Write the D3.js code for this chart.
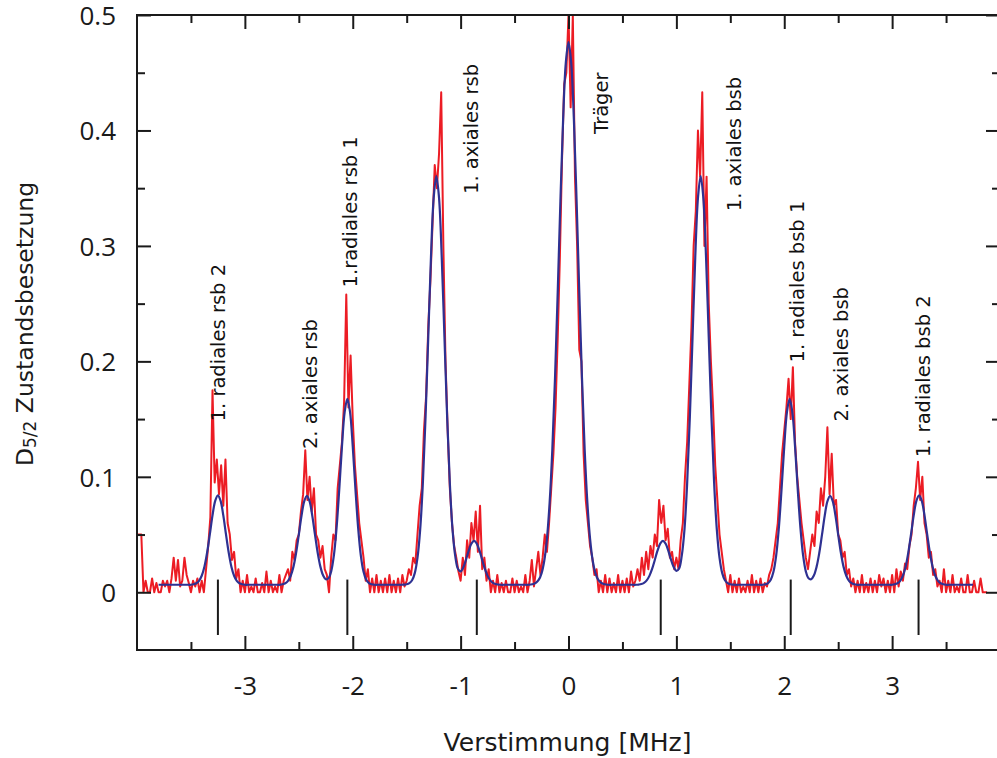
<!DOCTYPE html>
<html><head><meta charset="utf-8">
<script src="https://cdn.jsdelivr.net/npm/d3@7"></script>
<style>html,body{margin:0;padding:0;background:#fff;}svg{display:block;}</style>
</head><body>
<svg id="chart" width="997" height="758"></svg>
<script>
// ---------- DATA ----------
// measured spectrum: first x, spacing, values
const redStart = -4.0;
const redStep = 0.02;
const redValues = [
0.05,0.05,0.05,0.0,0.01,0.0,0.0,0.012,0.0,0.008,
0.0,0.0,0.01,0.005,0.01,0.0,0.012,0.03,0.01,0.028,
0.005,0.01,0.03,0.015,0.008,0.0,0.01,0.005,0.012,0.0,
0.01,0.0,0.02,0.04,0.065,0.175,0.095,0.115,0.085,0.11,
0.075,0.115,0.06,0.05,0.028,0.035,0.012,0.02,0.0,0.01,
0.0,0.015,0.0,0.005,0.0,0.012,0.0,0.0,0.008,0.0,
0.018,0.0,0.01,0.0,0.005,0.0,0.015,0.0,0.01,0.015,
0.02,0.01,0.035,0.028,0.045,0.05,0.07,0.085,0.123,0.08,
0.1,0.07,0.09,0.05,0.045,0.03,0.04,0.02,0.015,0.0,
0.03,0.05,0.045,0.09,0.11,0.13,0.165,0.258,0.16,0.205,
0.15,0.11,0.085,0.06,0.045,0.03,0.01,0.02,0.0,0.012,
0.0,0.015,0.0,0.01,0.0,0.012,0.0,0.015,0.0,0.01,
0.0,0.012,0.0,0.015,0.005,0.01,0.02,0.015,0.03,0.025,
0.05,0.075,0.09,0.14,0.17,0.23,0.27,0.32,0.37,0.35,
0.38,0.433,0.3,0.2,0.14,0.09,0.06,0.04,0.03,0.018,
0.01,0.03,0.015,0.045,0.03,0.06,0.045,0.07,0.035,0.075,
0.02,0.03,0.01,0.02,0.0,0.01,0.0,0.015,0.0,0.008,
0.0,0.01,0.0,0.0,0.012,0.0,0.01,0.0,0.005,0.0,
0.015,0.0,0.01,0.028,0.005,0.02,0.035,0.015,0.03,0.05,
0.035,0.06,0.09,0.12,0.16,0.22,0.29,0.375,0.44,0.45,
0.5,0.42,0.5,0.36,0.3,0.21,0.2,0.12,0.08,0.06,
0.04,0.03,0.015,0.02,0.0,0.01,0.0,0.015,0.0,0.012,
0.0,0.008,0.0,0.015,0.0,0.01,0.0,0.012,0.0,0.018,
0.005,0.01,0.02,0.01,0.03,0.015,0.035,0.02,0.04,0.03,
0.05,0.04,0.08,0.06,0.075,0.045,0.055,0.03,0.035,0.02,
0.03,0.02,0.045,0.06,0.1,0.13,0.18,0.23,0.3,0.33,
0.4,0.36,0.433,0.3,0.36,0.25,0.2,0.16,0.11,0.08,
0.05,0.035,0.02,0.01,0.0,0.015,0.0,0.01,0.0,0.012,
0.0,0.005,0.0,0.01,0.0,0.015,0.0,0.01,0.0,0.012,
0.0,0.008,0.005,0.015,0.02,0.03,0.045,0.06,0.09,0.12,
0.14,0.16,0.185,0.15,0.195,0.13,0.1,0.08,0.06,0.045,
0.03,0.02,0.035,0.05,0.04,0.07,0.06,0.09,0.075,0.1,
0.143,0.085,0.12,0.075,0.08,0.05,0.045,0.03,0.035,0.015,
0.02,0.005,0.012,0.0,0.01,0.0,0.015,0.0,0.008,0.0,
0.012,0.0,0.01,0.0,0.015,0.005,0.012,0.0,0.01,0.0,
0.015,0.0,0.02,0.005,0.018,0.01,0.025,0.02,0.04,0.05,
0.075,0.09,0.113,0.08,0.1,0.06,0.05,0.03,0.035,0.015,
0.02,0.005,0.01,0.0,0.02,0.0,0.01,0.0,0.015,0.0,
0.005,0.0,0.012,0.0,0.0,0.015,0.0,0.0,0.01,0.0,
0.0,0.012,0.0,0.0,0.0
];
// fitted curve: first x, spacing, values
const fitStart = -3.8;
const fitStep = 0.025;
const fitValues = [
0.0065,0.0065,0.0065,0.0065,0.0065,0.0065,0.0065,0.0065,0.0065,0.0065,0.0065,0.0065,0.0065,0.0069,
0.0078,0.0099,0.0143,0.0222,0.0344,0.0501,0.0666,0.0792,0.084,0.0792,0.0666,0.0501,0.0344,0.0222,0.0143,0.0099,0.0078,0.0069,
0.0065,0.0065,0.0065,0.0065,0.0065,0.0065,0.0065,0.0065,0.0065,0.0065,0.0065,0.0065,0.0065,0.0065,
0.0069,0.0078,0.0099,0.0143,0.022,0.0342,0.0499,0.0662,0.0787,0.0835,0.0787,0.0662,0.0499,0.0342,0.0222,0.0147,0.0113,0.0121,0.0181,0.0318,0.0558,0.0893,0.1263,0.1561,0.1675,0.1561,0.1263,0.0893,0.0558,0.0318,0.0177,0.0108,0.0079,0.0069,
0.0065,0.0065,0.0065,0.0065,0.0065,0.0065,0.0065,0.0065,0.0065,0.0065,0.0065,0.0066,
0.0069,0.0079,0.0104,0.0166,0.0298,0.0543,0.0946,0.152,0.2212,0.2901,0.3414,0.3605,0.3414,0.2901,0.2212,0.152,0.0946,0.0543,0.0315,0.0204,0.0181,0.0216,0.0283,0.036,0.0421,0.0445,0.0421,0.036,0.028,0.0202,0.0142,0.0103,0.0082,0.0071,0.0067,
0.0065,0.0065,0.0065,0.0065,0.0065,0.0065,0.0065,0.0065,0.0065,0.0065,0.0065,0.0067,0.0072,
0.0083,0.0109,0.0164,0.0271,0.0463,0.0775,0.1235,0.1856,0.2598,0.3388,0.4093,0.4586,0.4765,
0.4586,0.4093,0.3388,0.2598,0.1856,0.1235,0.0775,0.0463,0.0271,0.0164,0.0109,0.0083,
0.0072,0.0067,0.0065,0.0065,0.0065,0.0065,0.0065,0.0065,0.0065,0.0065,0.0065,0.0065,0.0065,
0.0067,0.0071,0.0082,0.0103,0.0142,0.0202,0.028,0.036,0.0421,0.0445,0.0421,0.036,0.0283,0.0218,0.0185,0.0206,0.0318,0.0543,0.0946,0.152,0.2212,0.2901,0.3414,0.3605,0.3414,0.2901,0.2212,0.152,0.0946,0.0543,0.0298,0.0166,0.0104,0.0079,0.0069,
0.0066,0.0065,0.0065,0.0065,0.0065,0.0065,0.0065,0.0065,0.0065,0.0065,0.0065,0.0065,
0.0069,0.0079,0.0108,0.0177,0.0318,0.0558,0.0893,0.1263,0.1561,0.1675,0.1561,0.1263,0.0893,0.0558,0.0318,0.0181,0.0121,0.0113,0.0147,0.0222,0.0342,0.0499,0.0662,0.0787,0.0835,0.0787,0.0662,0.0499,0.0342,0.022,0.0143,0.0099,0.0078,0.0069,
0.0065,0.0065,0.0065,0.0065,0.0065,0.0065,0.0065,0.0065,0.0065,0.0065,0.0065,0.0065,0.0065,0.0065,
0.0069,0.0078,0.0099,0.0143,0.0222,0.0344,0.0501,0.0666,0.0792,0.084,0.0792,0.0666,0.0501,0.0344,0.0222,0.0143,0.0099,0.0078,0.0069,
0.0065,0.0065,0.0065,0.0065,0.0065,0.0065,0.0065,0.0065,0.0065,0.0065,0.0065
];
// sideband marker positions (MHz)
const markerX = [-3.25, -2.05, -0.85, 0.855, 2.06, 3.245];
const markerY = [-0.037, 0.011];
// annotations
const labelText = ["1. radiales rsb 2","2. axiales rsb","1.radiales rsb 1","1. axiales rsb","Träger","1. axiales bsb","1. radiales bsb 1","2. axiales bsb","1. radiales bsb 2"];
const labelX = [-3.18, -2.33, -1.96, -0.84, 0.37, 1.60, 2.18, 2.59, 3.35];
const labelY = [0.148, 0.124, 0.264, 0.345, 0.397, 0.33, 0.199, 0.148, 0.117];
// axes
const xDomain = [-4, 4];
const yDomain = [-0.05, 0.5];
const xMajor = [-3,-2,-1,0,1,2,3];
const xMajorLabels = ["-3","-2","-1","0","1","2","3"];
const xMinor = [-3.5,-2.5,-1.5,-0.5,0.5,1.5,2.5,3.5];
const yMajor = [0,0.1,0.2,0.3,0.4,0.5];
const yMajorLabels = ["0","0.1","0.2","0.3","0.4","0.5"];
const yMinor = [0.05,0.15,0.25,0.35,0.45];

// ---------- DRAW ----------
const svg = d3.select("#chart");
const L = 137, R = 1000, T = 15, B = 650;
const x = d3.scaleLinear().domain(xDomain).range([L, R]);
const y = d3.scaleLinear().domain(yDomain).range([B, T]);
const axisColor = "#1a1a1a";

svg.append("rect").attr("width",997).attr("height",758).attr("fill","#fff");

svg.append("defs").append("clipPath").attr("id","clip")
  .append("rect").attr("x",L).attr("y",T).attr("width",R-L).attr("height",B-T);

const red = redValues.map((v,i)=>[redStart + i*redStep, v]);
const fit = fitValues.map((v,i)=>[fitStart + i*fitStep, v]);

const g = svg.append("g").attr("clip-path","url(#clip)");
g.append("path").datum(red)
  .attr("fill","none").attr("stroke","#ec1c24").attr("stroke-width",2)
  .attr("stroke-linejoin","round")
  .attr("d", d3.line().x(d=>x(d[0])).y(d=>y(d[1])).curve(d3.curveLinear));
g.append("path").datum(fit)
  .attr("fill","none").attr("stroke","#2e3192").attr("stroke-width",2.2)
  .attr("d", d3.line().x(d=>x(d[0])).y(d=>y(d[1])).curve(d3.curveCatmullRom));

// markers
svg.append("g").selectAll("line").data(markerX).join("line")
  .attr("x1",d=>x(d)).attr("x2",d=>x(d))
  .attr("y1",y(markerY[0])).attr("y2",y(markerY[1]))
  .attr("stroke",axisColor).attr("stroke-width",2);

// axes with inward ticks
function styleAxis(sel){
  sel.select(".domain").remove();
  sel.selectAll(".tick line").attr("stroke",axisColor).attr("stroke-width",2);
}
const bx = svg.append("g").attr("transform",`translate(0,${B})`)
  .call(d3.axisBottom(x).tickValues(xMajor).tickSizeInner(-14).tickSizeOuter(0).tickFormat((d,i)=>xMajorLabels[i]));
styleAxis(bx);
bx.selectAll(".tick text").attr("y",45).attr("dy",0)
  .attr("font-family","Open Sans, sans-serif").attr("font-size",26).attr("fill","#1a1a1a");
const bxm = svg.append("g").attr("transform",`translate(0,${B})`)
  .call(d3.axisBottom(x).tickValues(xMinor).tickSizeInner(-8).tickSizeOuter(0).tickFormat(""));
styleAxis(bxm);
const tx = svg.append("g").attr("transform",`translate(0,${T})`)
  .call(d3.axisTop(x).tickValues(xMajor).tickSizeInner(-14).tickSizeOuter(0).tickFormat(""));
styleAxis(tx);
const txm = svg.append("g").attr("transform",`translate(0,${T})`)
  .call(d3.axisTop(x).tickValues(xMinor).tickSizeInner(-8).tickSizeOuter(0).tickFormat(""));
styleAxis(txm);

const ly = svg.append("g").attr("transform",`translate(${L},0)`)
  .call(d3.axisLeft(y).tickValues(yMajor).tickSizeInner(-14).tickSizeOuter(0).tickFormat((d,i)=>yMajorLabels[i]));
styleAxis(ly);
ly.selectAll(".tick text").attr("x",-21).attr("dy","0.36em")
  .attr("font-family","Open Sans, sans-serif").attr("font-size",26).attr("fill","#1a1a1a");
const lym = svg.append("g").attr("transform",`translate(${L},0)`)
  .call(d3.axisLeft(y).tickValues(yMinor).tickSizeInner(-8).tickSizeOuter(0).tickFormat(""));
styleAxis(lym);
const ry = svg.append("g").attr("transform",`translate(${R},0)`)
  .call(d3.axisRight(y).tickValues(yMajor).tickSizeInner(-14).tickSizeOuter(0).tickFormat(""));
styleAxis(ry);
const rym = svg.append("g").attr("transform",`translate(${R},0)`)
  .call(d3.axisRight(y).tickValues(yMinor).tickSizeInner(-8).tickSizeOuter(0).tickFormat(""));
styleAxis(rym);

// frame
svg.append("rect").attr("x",L).attr("y",T).attr("width",R-L).attr("height",B-T)
  .attr("fill","none").attr("stroke",axisColor).attr("stroke-width",2);

// annotations
svg.append("g").selectAll("text").data(labelText).join("text")
  .attr("transform",(d,i)=>`translate(${x(labelX[i])},${y(labelY[i])}) rotate(-90)`)
  .attr("font-family","DejaVu Sans, sans-serif").attr("font-size",19.5).attr("fill","#111")
  .text(d=>d);

// axis titles
svg.append("text").attr("x",(L+R)/2 - 1).attr("y",751).attr("text-anchor","middle")
  .attr("font-family","DejaVu Sans, sans-serif").attr("font-size",25).attr("fill","#1a1a1a")
  .text("Verstimmung [MHz]");
const yt = svg.append("text").attr("transform","translate(33,324) rotate(-90)").attr("text-anchor","middle")
  .attr("font-family","DejaVu Sans, sans-serif").attr("font-size",23.5).attr("fill","#1a1a1a");
yt.append("tspan").text("D");
yt.append("tspan").attr("font-size",17).attr("dy",3).text("5/2");
yt.append("tspan").attr("dy",-3).text(" Zustandsbesetzung");
</script>
</body></html>
